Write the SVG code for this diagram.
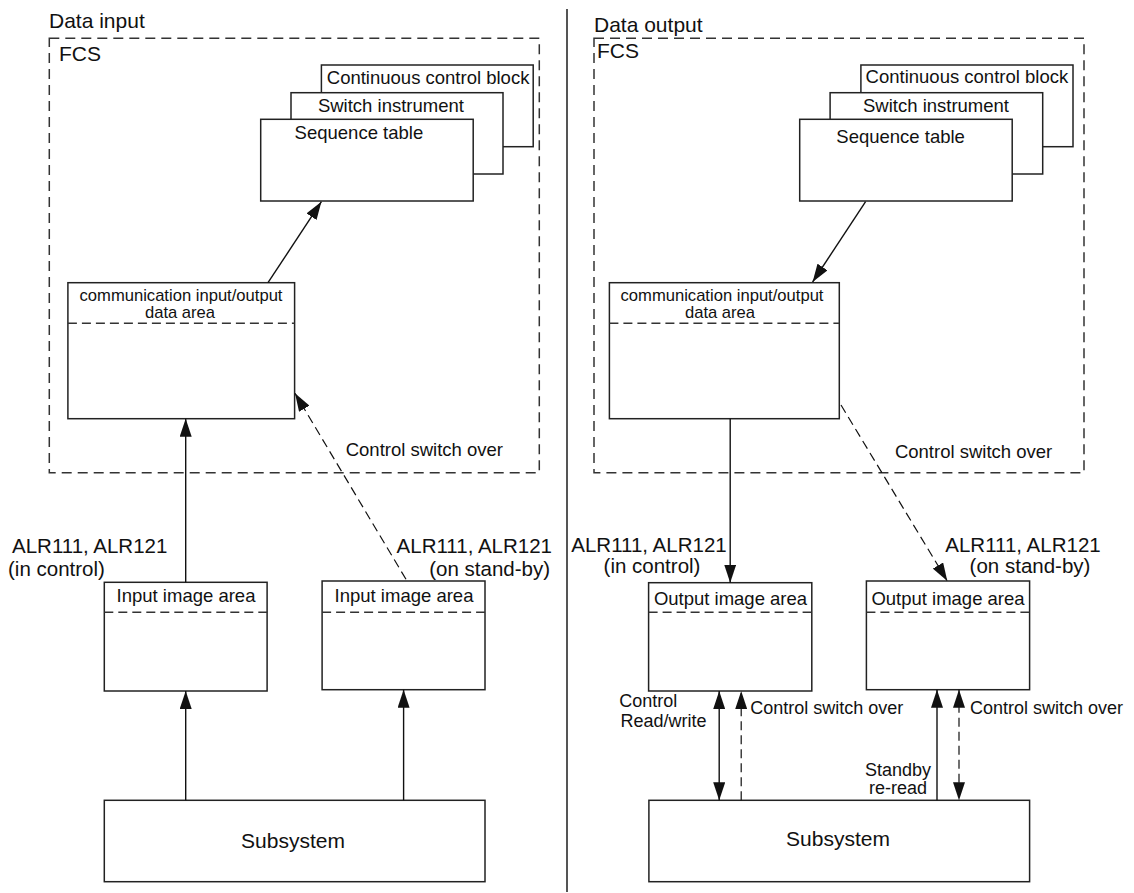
<svg xmlns="http://www.w3.org/2000/svg" width="1134" height="893" viewBox="0 0 1134 893">
<style>
text{font-family:"Liberation Sans",Arial,sans-serif;fill:#111}
.h{font-size:21px}
.b{font-size:18.5px}
.c{font-size:16.6px}
.a{font-size:20.5px}
.s{font-size:18px}
.box{fill:#fff;stroke:#222;stroke-width:1.5}
.fcs{fill:none;stroke:#333;stroke-width:1.5;stroke-dasharray:10 6}
.sep{stroke:#333;stroke-width:1.5;stroke-dasharray:9 5}
.ln{fill:none;stroke:#111;stroke-width:1.4}
.dl{fill:none;stroke:#111;stroke-width:1.2;stroke-dasharray:9 5}
.mid{text-anchor:middle}
.end{text-anchor:end}
</style>
<defs>
<marker id="ah" markerUnits="userSpaceOnUse" markerWidth="18" markerHeight="12" viewBox="0 0 18 12" refX="18" refY="6" orient="auto-start-reverse">
<path d="M0,0 L18,6 L0,12 z" fill="#111"/>
</marker>
</defs>

<line id="divider" x1="567" y1="9" x2="567" y2="892" stroke="#555" stroke-width="2"/>

<g id="left-title"><text class="h" x="49" y="27.5">Data input</text></g>
<g id="left-fcs"><rect class="fcs" x="49.3" y="38.3" width="490" height="434.4"/><text class="h" x="59" y="60.7">FCS</text><text class="b" x="345.7" y="456">Control switch over</text></g>
<g id="left-ccb"><rect class="box" x="321.4" y="65" width="211.8" height="81.7"/><text class="b" x="326.8" y="84">Continuous control block</text></g>
<g id="left-si"><rect class="box" x="291" y="92.7" width="212" height="81.3"/><text class="b" x="317.9" y="111.7">Switch instrument</text></g>
<g id="left-st"><rect class="box" x="260.7" y="119.3" width="212.5" height="81.7"/><text class="b" x="294.6" y="139.3">Sequence table</text></g>
<g id="left-comm"><rect class="box" x="67.9" y="282.7" width="226.7" height="136"/><line class="sep" x1="67.9" y1="323.3" x2="294.6" y2="323.3"/><text class="c mid" x="181" y="300.8">communication input/output</text><text class="c mid" x="180" y="317.6">data area</text></g>
<g id="left-alr-ctl"><text class="a" x="12" y="553.3">ALR111, ALR121</text><text class="a" x="8" y="576">(in control)</text></g>
<g id="left-alr-sb"><text class="a end" x="552" y="553.3">ALR111, ALR121</text><text class="a end" x="550" y="576">(on stand-by)</text></g>
<g id="left-in1"><rect class="box" x="104.3" y="582.3" width="162.8" height="108.7"/><line class="sep" x1="104.3" y1="612.3" x2="267.1" y2="612.3"/><text class="b mid" x="186" y="601.7">Input image area</text></g>
<g id="left-in2"><rect class="box" x="322.1" y="581" width="162.9" height="108.7"/><line class="sep" x1="322.1" y1="612.3" x2="485" y2="612.3"/><text class="b mid" x="404" y="601.7">Input image area</text></g>
<g id="left-sub"><rect class="box" x="104.3" y="800.3" width="380.7" height="81.4"/><text class="h mid" x="293" y="848">Subsystem</text></g>

<g id="right-title"><text class="h" x="594" y="31.7">Data output</text></g>
<g id="right-fcs"><rect class="fcs" x="594" y="38.3" width="490" height="434.4"/><text class="h" x="597" y="58">FCS</text><text class="b" x="894.9" y="458.3">Control switch over</text></g>
<g id="right-ccb"><rect class="box" x="860.9" y="65" width="212.1" height="81.7"/><text class="b" x="865.6" y="82.7">Continuous control block</text></g>
<g id="right-si"><rect class="box" x="830.1" y="92.7" width="212.6" height="81.3"/><text class="b" x="863" y="111.7">Switch instrument</text></g>
<g id="right-st"><rect class="box" x="799.7" y="119.3" width="212.5" height="81.7"/><text class="b" x="836.3" y="142.7">Sequence table</text></g>
<g id="right-comm"><rect class="box" x="609.4" y="282.7" width="229.9" height="136"/><line class="sep" x1="609.4" y1="323.3" x2="839.3" y2="323.3"/><text class="c mid" x="722" y="300.8">communication input/output</text><text class="c mid" x="720" y="317.6">data area</text></g>
<g id="right-alr-ctl"><text class="a mid" x="649" y="551.7">ALR111, ALR121</text><text class="a mid" x="652" y="573.3">(in control)</text></g>
<g id="right-alr-sb"><text class="a mid" x="1023" y="551.7">ALR111, ALR121</text><text class="a mid" x="1030" y="573.3">(on stand-by)</text></g>
<g id="right-out1"><rect class="box" x="648.6" y="582.7" width="163.2" height="108.3"/><line class="sep" x1="648.6" y1="612.3" x2="811.8" y2="612.3"/><text class="b mid" x="730.5" y="605">Output image area</text></g>
<g id="right-out2"><rect class="box" x="866.4" y="581" width="163.2" height="108.7"/><line class="sep" x1="866.4" y1="612.3" x2="1029.6" y2="612.3"/><text class="b mid" x="948" y="605">Output image area</text></g>
<g id="right-sub"><rect class="box" x="648.9" y="800.3" width="380.7" height="81.4"/><text class="h mid" x="838" y="846">Subsystem</text></g>
<g id="right-labels">
<text class="s" x="619.3" y="707.3">Control</text><text class="s" x="620.4" y="726.8">Read/write</text>
<text class="s" x="750.3" y="714.3">Control switch over</text>
<text class="s" x="970" y="714.3">Control switch over</text>
<text class="s mid" x="898" y="775.8">Standby</text><text class="s mid" x="898" y="794">re-read</text>
</g>

<g id="connectors">
<line class="ln" x1="268" y1="282.7" x2="321.4" y2="201.7" marker-end="url(#ah)"/>
<line class="ln" x1="185.7" y1="582.3" x2="185.7" y2="418.7" marker-end="url(#ah)"/>
<line class="dl" x1="406" y1="579.3" x2="295" y2="393.3" marker-end="url(#ah)"/>
<line class="ln" x1="185.7" y1="800.3" x2="185.7" y2="691" marker-end="url(#ah)"/>
<line class="ln" x1="403.6" y1="800.3" x2="403.6" y2="689.7" marker-end="url(#ah)"/>
<line class="ln" x1="865.6" y1="201.7" x2="812.6" y2="282" marker-end="url(#ah)"/>
<line class="ln" x1="730.2" y1="418.7" x2="730.2" y2="582.7" marker-end="url(#ah)"/>
<line class="dl" x1="841" y1="405" x2="947.3" y2="581" marker-end="url(#ah)"/>
<line class="ln" x1="719.2" y1="691" x2="719.2" y2="800.3" marker-start="url(#ah)" marker-end="url(#ah)"/>
<line class="dl" x1="741.2" y1="800.3" x2="741.2" y2="691" marker-end="url(#ah)"/>
<line class="ln" x1="937" y1="800.3" x2="937" y2="689.7" marker-end="url(#ah)"/>
<line class="dl" x1="959" y1="689.7" x2="959" y2="800.3" marker-start="url(#ah)" marker-end="url(#ah)"/>
</g>
</svg>
